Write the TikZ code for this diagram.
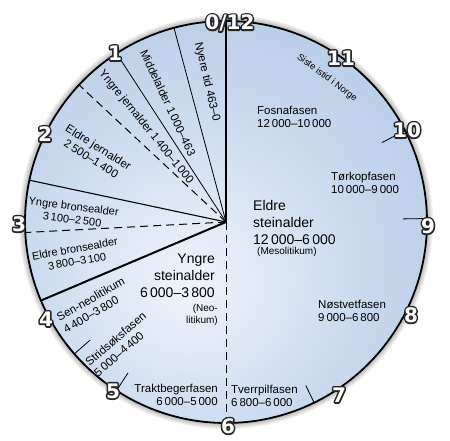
\documentclass[tikz,border=0pt]{standalone}
\usepackage{fontspec}
\setmainfont{Liberation Sans}
\newfontfamily\numfont{DejaVu Sans}
\usetikzlibrary{calc}
\definecolor{discin}{RGB}{240,244,251}
\definecolor{discmid}{RGB}{200,216,237}
\definecolor{discout}{RGB}{158,186,221}
\pgfdeclareradialshading{discshade}{\pgfpoint{-5bp}{-8bp}}{color(0bp)=(discin); color(22bp)=(discmid); color(52bp)=(discout); color(100bp)=(discout)}
\newcommand\bignum[1]{\rlap{\textcolor{black}{\special{pdf:literal direct 0.15 G 3.2 w 1 j 2 Tr}#1\special{pdf:literal direct 0 Tr}}}\textcolor{white}{#1}}
\begin{document}
\begin{tikzpicture}[x=1pt,y=-1pt,
  lbl/.style={font=\fontsize{11.5}{13.5}\selectfont, inner sep=0pt},
  lblsm/.style={font=\fontsize{11}{13}\selectfont, inner sep=0pt},
  big/.style={font=\fontsize{14}{17}\selectfont, inner sep=0pt},
  paren/.style={font=\fontsize{10}{12}\selectfont, inner sep=0pt},
  numlab/.style={font=\fontsize{20}{20}\numfont\bfseries, inner sep=0pt},
  thinline/.style={line width=0.8pt},
  midline/.style={line width=1.1pt},
  thickline/.style={line width=2pt},
  dashline/.style={line width=1pt, dash pattern=on 8pt off 5pt},
  tickline/.style={line width=0.8pt}]
\useasboundingbox (0,0) rectangle (450,441);
\def\R{201}
\coordinate (C) at (226,222);
% shadow
\foreach \i in {1,...,6}{\fill[black,opacity=0.05] (C) circle ({\R+\i});}
% disc
\fill[shading=discshade] (C) circle (\R);
% radial endpoints
\coordinate (top) at (226,21);
\coordinate (bot) at (226,423);
\coordinate (a463) at ({226-\R*sin(15)},{222-\R*cos(15)});
\coordinate (a1000) at ({226-\R*sin(33)},{222-\R*cos(33)});
\coordinate (a1400) at ({226-\R*sin(47)},{222-\R*cos(47)});
\coordinate (a2500) at ({226-\R*sin(78)},{222-\R*cos(78)});
\coordinate (a3100) at ({226-\R*sin(93)},{222-\R*cos(93)});
\coordinate (a3800) at ({226-\R*sin(113)},{222-\R*cos(113)});
\draw[thickline] (C) -- (top);
\draw[dashline] (C) -- (bot);
\draw[thinline] (C) -- (a463);
\draw[thinline] (C) -- (a1000);
\draw[dashline] (C) -- (a1400);
\draw[midline] (C) -- (a2500);
\draw[dashline] (C) -- (a3100);
\draw[thickline] (C) -- (a3800);
% ticks
\foreach \nm/\ang/\rin in {k4400/131/180, k5000/147/180, k6800/206/182, k9000/271/177, k10000/297/175}{
  \coordinate (\nm i) at ({226-\rin*sin(\ang)},{222-\rin*cos(\ang)});
  \coordinate (\nm o) at ({226-\R*sin(\ang)},{222-\R*cos(\ang)});
  \draw[tickline] (\nm i) -- (\nm o);
}
% outline
\draw[line width=1.8pt] (C) circle (\R);
% labels left (periods)
\node[lbl, rotate=-77] (nyere) at (207,82) {Nyere tid 463--0};
\node[lbl, rotate=-65] (midd) at (168,103) {Middelalder 1\,000--463};
\node[lbl, rotate=-51] (yjern) at (146,127) {Yngre jernalder 1\,400--1\,000};
\node[lbl, rotate=-32, align=center] (ejern) at (95,153) {Eldre jernalder\\2\,500--1\,400};
\node[lblsm, rotate=-7, align=center] (ybron) at (73,213) {Yngre bronsealder\\3\,100--2\,500};
\node[lblsm, rotate=10, align=center] (ebron) at (76,255) {Eldre bronsealder\\3\,800--3\,100};
\node[lbl, rotate=30, align=left] (senneo) at (94,305) {Sen-neolitikum\\4\,400--3\,800};
\node[lbl, rotate=41, align=left] (strid) at (120,344) {Stridsøksfasen\\5\,000--4\,400};
\node[lbl, align=right, anchor=east] (trakt) at (218,395) {Traktbegerfasen\\6\,000--5\,000};
% labels right (phases)
\node[lbl, align=left, anchor=west] (tverr) at (231,396) {Tverrpilfasen\\6\,800--6\,000};
\node[lbl, align=left, anchor=west] (nost) at (318,311) {Nøstvetfasen\\9\,000--6\,800};
\node[lbl, align=left, anchor=west] (tork) at (331,183) {Tørkopfasen\\10\,000--9\,000};
\node[lbl, align=left, anchor=west] (fosna) at (257,117) {Fosnafasen\\12\,000--10\,000};
\node[font=\fontsize{9.3}{11}\selectfont, inner sep=0pt, rotate=-37] (istid) at (327,78) {Siste istid i Norge};
% central labels
\node[big, align=left, anchor=north west] (eldre) at (253,200) {Eldre\\steinalder\\12\,000--6\,000};
\node[paren, anchor=north west] (meso) at (257,247) {(Mesolitikum)};
\node[big, align=right, anchor=north east] (yngre) at (215,254) {Yngre\\steinalder\\6\,000--3\,800};
\node[paren, align=right, anchor=north east] (neo) at (218,304) {(Neo-\\litikum)};
% numerals
\foreach \lab/\x/\y/\nm in {{0/12}/230/23/n12, 1/115/53/n1, 2/45/134/n2, 3/19/224/n3, 4/46/319/n4, 5/113/391/n5, 6/228/426/n6, 7/339/395/n7, 8/411/315/n8, 9/428/226/n9, 10/407/130/n10, 11/341/58/n11}{
  \node[numlab] (\nm) at (\x,\y) {\bignum{\lab}};
}
\end{tikzpicture}
\end{document}
